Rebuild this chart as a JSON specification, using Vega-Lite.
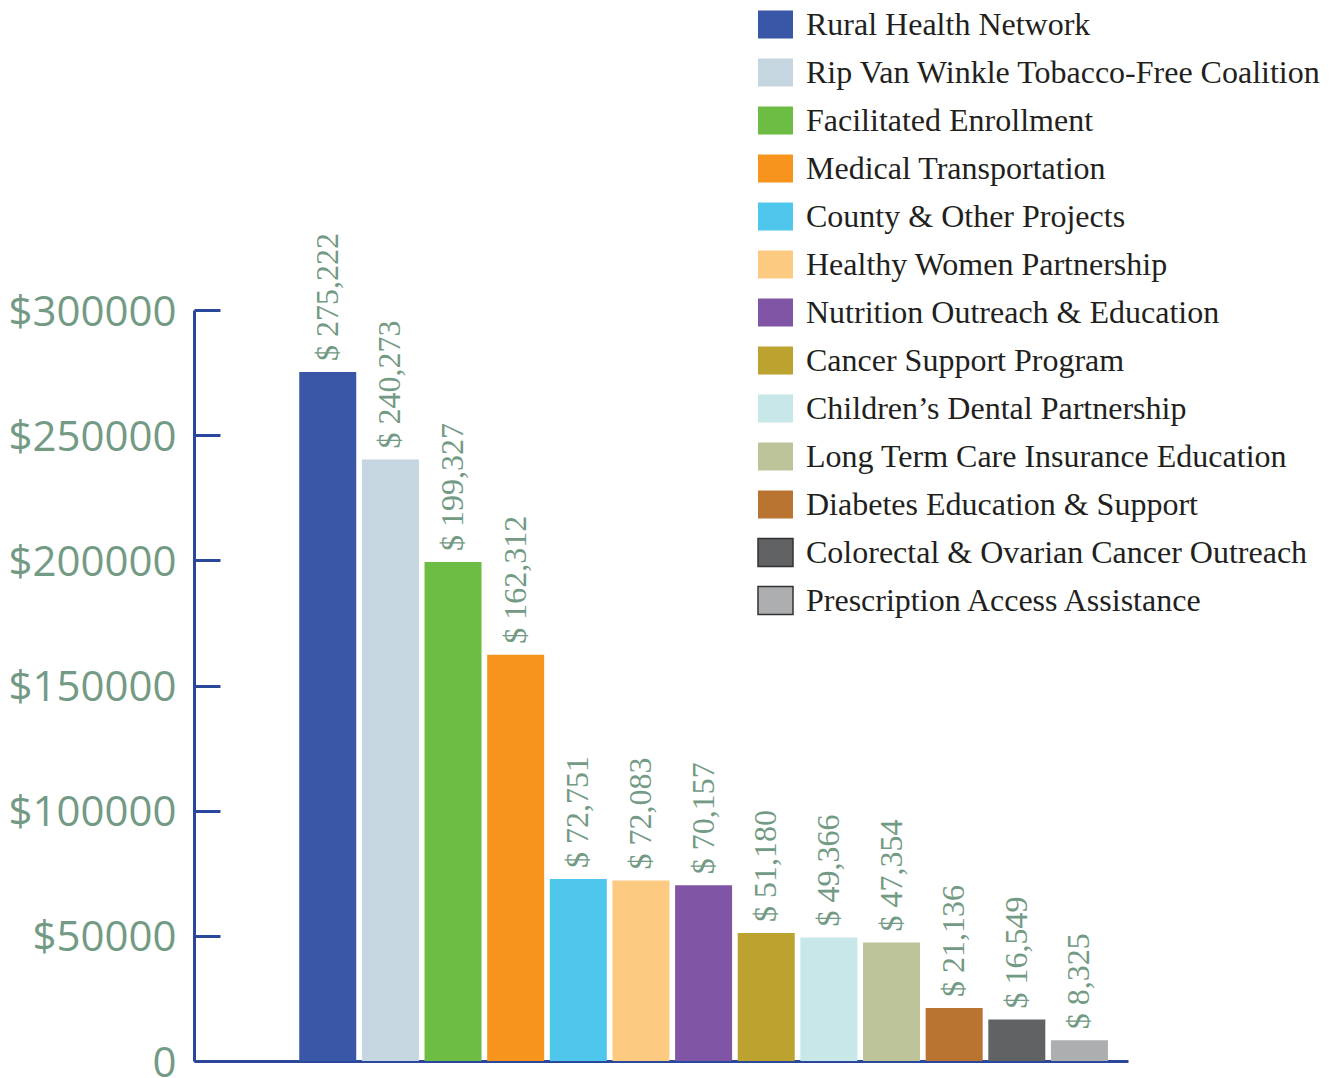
{
  "$schema": "https://vega.github.io/schema/vega-lite/v6.json",
  "width": 934,
  "height": 751,
  "autosize": {"type": "none"},
  "padding": {"left": 194, "top": 310, "right": 203, "bottom": 17},
  "background": "white",
  "config": {"view": {"stroke": null}},
  "data": {
    "values": [
      {"program": "Rural Health Network", "amount": 275222},
      {"program": "Rip Van Winkle Tobacco-Free Coalition", "amount": 240273},
      {"program": "Facilitated Enrollment", "amount": 199327},
      {"program": "Medical Transportation", "amount": 162312},
      {"program": "County & Other Projects", "amount": 72751},
      {"program": "Healthy Women Partnership", "amount": 72083},
      {"program": "Nutrition Outreach & Education", "amount": 70157},
      {"program": "Cancer Support Program", "amount": 51180},
      {"program": "Children’s Dental Partnership", "amount": 49366},
      {"program": "Long Term Care Insurance Education", "amount": 47354},
      {"program": "Diabetes Education & Support", "amount": 21136},
      {"program": "Colorectal & Ovarian Cancer Outreach", "amount": 16549},
      {"program": "Prescription Access Assistance", "amount": 8325}
    ]
  },
  "transform": [{"calculate": "'$ ' + format(datum.amount, ',')", "as": "label"}],
  "encoding": {
    "x": {
      "field": "program", "type": "nominal", "sort": null,
      "scale": {"paddingInner": 0.09, "paddingOuter": 1.0, "align": 0.84},
      "axis": {"title": null, "labels": false, "ticks": false, "domainColor": "#2b479b", "domainWidth": 3}
    },
    "y": {
      "field": "amount", "type": "quantitative",
      "scale": {"domain": [0, 300000], "nice": false},
      "axis": {
        "title": null, "values": [0, 50000, 100000, 150000, 200000, 250000, 300000],
        "labelExpr": "datum.value == 0 ? '0' : '$' + datum.value",
        "grid": false, "domainColor": "#2b479b", "domainWidth": 3,
        "tickColor": "#2b479b", "tickWidth": 3, "tickSize": -26,
        "labelFont": "Open Sans", "labelFontSize": 42, "labelColor": "#739a84",
        "labelPadding": 44, "labelOffset": 2
      }
    }
  },
  "layer": [
    {
      "mark": {"type": "bar"},
      "encoding": {
        "color": {
          "field": "program", "type": "nominal", "sort": null,
          "scale": {
            "domain": ["Rural Health Network", "Rip Van Winkle Tobacco-Free Coalition", "Facilitated Enrollment", "Medical Transportation", "County & Other Projects", "Healthy Women Partnership", "Nutrition Outreach & Education", "Cancer Support Program", "Children’s Dental Partnership", "Long Term Care Insurance Education", "Diabetes Education & Support", "Colorectal & Ovarian Cancer Outreach", "Prescription Access Assistance"],
            "range": ["#3a57a7", "#c6d6e1", "#6dbd45", "#f7941e", "#4fc6ec", "#fdca82", "#8155a5", "#bca22f", "#c8e7e8", "#bec49a", "#b97431", "#616264", "#adaeb0"]
          },
          "legend": {
            "title": null, "orient": "none", "legendX": 563, "legendY": -304,
            "symbolType": "M-1,-0.8H1V0.8H-1Z", "symbolSize": 1225, "symbolStrokeWidth": 0,
            "symbolOpacity": 1,
            "labelFont": "Liberation Serif", "labelFontSize": 32, "labelColor": "#231f20",
            "labelOffset": 12, "rowPadding": 12, "labelLimit": 0,
            "encode": {
              "symbols": {
                "update": {
                  "stroke": {"signal": "indexof(['Colorectal & Ovarian Cancer Outreach','Prescription Access Assistance'], datum.value) >= 0 ? '#333333' : 'transparent'"},
                  "strokeWidth": {"value": 1.5}
                }
              }
            }
          }
        }
      }
    },
    {
      "mark": {"type": "text", "angle": 270, "align": "left", "baseline": "middle", "dx": 11, "font": "Liberation Serif", "fontSize": 32, "color": "#739a84"},
      "encoding": {"text": {"field": "label"}}
    }
  ]
}
